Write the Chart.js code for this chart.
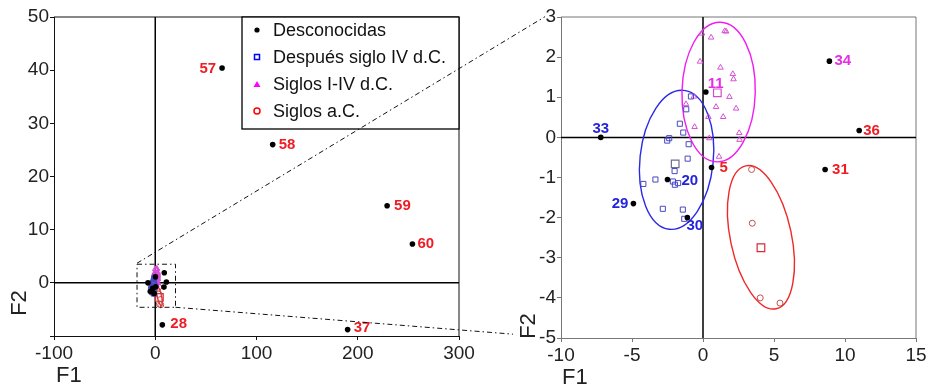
<!DOCTYPE html>
<html>
<head>
<meta charset="utf-8">
<script src="https://cdn.jsdelivr.net/npm/chart.js@4.4.1/dist/chart.umd.min.js"></script>
<style>
  html, body { margin: 0; padding: 0; background: #fff; }
  #wrap { position: relative; width: 930px; height: 387px; }
  #wrap canvas { position: absolute; left: 0; top: 0; }
</style>
</head>
<body>
<div id="wrap">
  <canvas id="zoomChart" width="930" height="387"></canvas>
  <canvas id="fullChart" width="930" height="387"></canvas>
</div>
<script>
// ---- values ----
const legendNames = ['Desconocidas', 'Después siglo IV d.C.', 'Siglos I-IV d.C.', 'Siglos a.C.'];

// unknown samples (black dots), with their ids
const unknownIds = ['57', '58', '59', '60', '28', '37', '33', '29', '20', '30', '5', '11', '34', '36', '31'];
const unknownF1 = [66, 116, 229, 254, 7, 190, -7.2, -4.9, -2.5, -1.1, 0.6, 0.2, 8.9, 11.0, 8.6];
const unknownF2 = [40.4, 26.0, 14.5, 7.3, -7.9, -8.8, 0.0, -1.65, -1.05, -2.0, -0.75, 1.13, 1.9, 0.17, -0.8];

// después siglo IV d.C. (blue squares)
const lateF1 = [-0.85, -1.18, -1.63, -1.39, -2.38, -2.52, -1.01, -1.08, -2.0, -3.35, -4.2, -2.12, -1.98, -1.75, -2.83, -1.42, -1.32];
const lateF2 = [1.02, 0.70, 0.34, 0.12, -0.02, -0.08, -0.17, -0.53, -0.84, -1.05, -1.16, -1.10, -1.18, -1.14, -1.78, -1.80, -2.03];

// siglos I-IV d.C. (magenta triangles)
const romanF1 = [-0.07, 0.57, 1.53, 1.63, -0.21, 1.23, 2.10, 2.15, 1.86, -0.64, -1.20, 0.92, 2.33, 0.38, 1.42, -0.59, 2.55, 2.57, 0.45, 1.13];
const romanF2 = [2.59, 2.49, 2.65, 2.64, 1.89, 1.74, 1.58, 1.45, 1.01, 1.02, 0.83, 0.76, 0.72, 0.51, 0.51, 0.26, 0.11, -0.06, -0.02, -0.48];

// siglos a.C. (red circles)
const bcF1 = [3.42, 3.47, 4.03, 5.42];
const bcF2 = [-0.80, -2.14, -4.0, -4.13];

// group centroids (big squares): late, roman, bc
const centroidF1 = [-1.96, 1.01, 4.08];
const centroidF2 = [-0.66, 1.11, -2.75];

// confidence ellipses: centre, half axes (F1, F2 units), tilt in degrees
const ellipseF1 = [-1.86, 1.10, 4.08];
const ellipseF2 = [-0.56, 1.13, -2.49];
const ellipseHalfF1 = [2.58, 2.58, 2.15];
const ellipseHalfF2 = [1.74, 1.74, 1.82];
const ellipseTilt = [6, 1.5, -12];

// axes
const fullXTicks = [-100, 0, 100, 200, 300];
const fullYTicks = [-10, 0, 10, 20, 30, 40, 50];
const zoomXTicks = [-10, -5, 0, 5, 10, 15];
const zoomYTicks = [-5, -4, -3, -2, -1, 0, 1, 2, 3];

// zoomed region marked on the full plot
const zoomBoxF1 = [-18, 20];
const zoomBoxF2 = [-4.6, 3.5];

// ---- styles ----
const FONT = "'Liberation Sans', Arial, sans-serif";
const RED = '#ee1c24', BLUE = '#2424dc', MAGENTA = '#e62ee6';
const ellipseColors = ['#2a2ae6', '#f01cf0', '#f02828'];
const labelPlace = {
    '57': { dx: -6, dy: 1, align: 'right', color: RED },
    '58': { dx: 6, dy: 0, align: 'left', color: RED },
    '59': { dx: 7, dy: 0, align: 'left', color: RED },
    '60': { dx: 5, dy: 0, align: 'left', color: RED },
    '28': { dx: 8, dy: -1, align: 'left', color: RED },
    '37': { dx: 6, dy: -2, align: 'left', color: RED },
    '33': { dx: 0, dy: -9, align: 'center', color: BLUE },
    '29': { dx: -5, dy: 0, align: 'right', color: BLUE },
    '20': { dx: 14, dy: 1, align: 'left', color: BLUE },
    '30': { dx: -1, dy: 8, align: 'left', color: BLUE },
    '5': { dx: 8, dy: 0, align: 'left', color: RED },
    '11': { dx: 2, dy: -8, align: 'left', color: MAGENTA },
    '34': { dx: 5, dy: 0, align: 'left', color: MAGENTA },
    '36': { dx: 4, dy: 0, align: 'left', color: RED },
    '31': { dx: 7, dy: 0, align: 'left', color: RED }
};

const pts = (xs, ys) => xs.map((x, i) => ({ x: x, y: ys[i] }));

function makeDatasets() {
    return [
        { label: legendNames[0], data: pts(unknownF1, unknownF2), pointStyle: 'circle', pointRadius: 2.8,
          backgroundColor: '#000', borderColor: '#000', borderWidth: 0 },
        { label: legendNames[1], data: pts(lateF1, lateF2), pointStyle: 'rect', pointRadius: 3.6,
          backgroundColor: 'rgba(0,0,0,0)', borderColor: '#4848c4', borderWidth: 1 },
        { label: legendNames[2], data: pts(romanF1, romanF2), pointStyle: 'triangle', pointRadius: 3.2,
          backgroundColor: 'rgba(0,0,0,0)', borderColor: '#d650d6', borderWidth: 1 },
        { label: legendNames[3], data: pts(bcF1, bcF2), pointStyle: 'circle', pointRadius: 3,
          backgroundColor: 'rgba(0,0,0,0)', borderColor: '#c25050', borderWidth: 1 },
        { label: 'centroides', data: pts(centroidF1, centroidF2), pointStyle: 'rect', pointRadius: 5.4,
          backgroundColor: 'rgba(0,0,0,0)', borderColor: ['#6c6c92', '#d24cd2', '#d42c34'], borderWidth: 1.2 }
    ];
}

function axis(ticksArr, color, isX, size, hideFirst) {
    return {
        type: 'linear',
        min: ticksArr[0],
        max: ticksArr[ticksArr.length - 1],
        ticks: {
            stepSize: ticksArr[1] - ticksArr[0],
            color: '#222',
            font: { size: 19, family: FONT },
            padding: isX ? 2 : 1,
            maxRotation: 0,
            autoSkip: false,
            callback: v => (hideFirst && v === ticksArr[0]) ? '' : String(v)
        },
        grid: { drawOnChartArea: false, drawTicks: true, tickLength: 4, color: color },
        border: { display: true, color: color, width: 1 },
        afterFit: scale => {
            if (isX) scale.height = size; else scale.width = size;
        }
    };
}

const extrasPlugin = {
    id: 'extras',
    beforeDatasetsDraw(chart, args, opts) {
        const { ctx, chartArea: a, scales: { x, y } } = chart;
        ctx.save();
        // top and right frame
        ctx.strokeStyle = opts.frameColor;
        ctx.lineWidth = 1;
        ctx.beginPath();
        ctx.moveTo(a.left, a.top);
        ctx.lineTo(a.right, a.top);
        ctx.lineTo(a.right, a.bottom);
        ctx.stroke();
        // axes through the origin
        const x0 = x.getPixelForValue(0), y0 = y.getPixelForValue(0);
        ctx.strokeStyle = '#000';
        ctx.lineWidth = 1.5;
        ctx.beginPath();
        ctx.moveTo(x0, a.top); ctx.lineTo(x0, a.bottom);
        ctx.moveTo(a.left, y0); ctx.lineTo(a.right, y0);
        ctx.stroke();
        // group ellipses
        ctx.beginPath();
        ctx.rect(a.left, a.top, a.width, a.height);
        ctx.clip();
        ellipseF1.forEach((cx, i) => {
            const px = x.getPixelForValue(cx), py = y.getPixelForValue(ellipseF2[i]);
            const rx = Math.abs(x.getPixelForValue(cx + ellipseHalfF1[i]) - px);
            const ry = Math.abs(y.getPixelForValue(ellipseF2[i] + ellipseHalfF2[i]) - py);
            ctx.strokeStyle = ellipseColors[i];
            ctx.lineWidth = 1.4;
            ctx.beginPath();
            ctx.ellipse(px, py, rx, ry, ellipseTilt[i] * Math.PI / 180, 0, Math.PI * 2);
            ctx.stroke();
        });
        ctx.restore();
    },
    afterDatasetsDraw(chart, args, opts) {
        const { ctx, chartArea: a, scales: { x, y } } = chart;
        ctx.save();

        // sample ids
        ctx.font = 'bold 15px ' + FONT;
        ctx.textBaseline = 'middle';
        opts.labels.forEach(id => {
            const i = unknownIds.indexOf(id);
            const p = labelPlace[id];
            ctx.fillStyle = p.color;
            ctx.textAlign = p.align;
            ctx.fillText(id, x.getPixelForValue(unknownF1[i]) + p.dx, y.getPixelForValue(unknownF2[i]) + p.dy);
        });

        // axis titles, put at the lower left corner like the original
        ctx.fillStyle = '#222';
        ctx.font = '22px ' + FONT;
        ctx.textAlign = 'left';
        ctx.fillText('F1', a.left + opts.f1[0], a.bottom + opts.f1[1]);
        ctx.save();
        ctx.translate(a.left + opts.f2[0], a.bottom + opts.f2[1]);
        ctx.rotate(-Math.PI / 2);
        ctx.textAlign = 'center';
        ctx.fillText('F2', 0, 0);
        ctx.restore();

        if (opts.legend) {
            const w = 217, h = 112, bx = a.right - w, by = a.top;
            ctx.fillStyle = '#fff';
            ctx.fillRect(bx, by, w, h);
            ctx.strokeStyle = '#000';
            ctx.lineWidth = 1.3;
            ctx.strokeRect(bx, by, w, h);
            ctx.font = '18px ' + FONT;
            ctx.textAlign = 'left';
            legendNames.forEach((name, k) => {
                const cy = by + 13 + 27 * k, mx = bx + 15;
                ctx.lineWidth = 1.5;
                ctx.beginPath();
                if (k === 0) {
                    ctx.fillStyle = '#000';
                    ctx.arc(mx, cy, 2.6, 0, Math.PI * 2);
                    ctx.fill();
                } else if (k === 1) {
                    ctx.strokeStyle = '#0000ff';
                    ctx.strokeRect(mx - 2.5, cy - 2.5, 5, 5);
                } else if (k === 2) {
                    ctx.fillStyle = '#ff00ff';
                    ctx.moveTo(mx, cy - 3); ctx.lineTo(mx + 3.5, cy + 3); ctx.lineTo(mx - 3.5, cy + 3);
                    ctx.closePath();
                    ctx.fill();
                } else {
                    ctx.strokeStyle = '#ff0000';
                    ctx.arc(mx, cy, 3, 0, Math.PI * 2);
                    ctx.stroke();
                }
                ctx.fillStyle = '#111';
                ctx.fillText(name, bx + 31, cy + 1);
            });
        }

        if (opts.target) {
            // dashed box round the zoomed region and the lines out to the second plot
            const l = x.getPixelForValue(zoomBoxF1[0]), r = x.getPixelForValue(zoomBoxF1[1]);
            const t = y.getPixelForValue(zoomBoxF2[1]), b = y.getPixelForValue(zoomBoxF2[0]);
            const ta = opts.target.chartArea;
            ctx.strokeStyle = '#111';
            ctx.lineWidth = 1;
            ctx.setLineDash([5, 3, 1.5, 3]);
            ctx.strokeRect(l, t, r - l, b - t);
            const line = (x1, y1, x2, y2, stopX) => {
                const k = (stopX - x1) / (x2 - x1);
                ctx.beginPath();
                ctx.moveTo(x1, y1);
                ctx.lineTo(stopX, y1 + (y2 - y1) * k);
                ctx.stroke();
            };
            line(l, t - 1, ta.left, ta.top - 10, ta.left - 16);
            line(r, b, ta.left, ta.bottom, ta.left - 48);
        }
        ctx.restore();
    }
};

// zoomed plot (right)
const zoomChart = new Chart(document.getElementById('zoomChart'), {
    type: 'scatter',
    data: { datasets: makeDatasets() },
    plugins: [extrasPlugin],
    options: {
        responsive: false,
        animation: false,
        events: [],
        layout: { padding: { left: 531, right: 14, top: 17, bottom: 0 } },
        scales: {
            x: axis(zoomXTicks, '#777', true, 49, false),
            y: axis(zoomYTicks, '#777', false, 30, false)
        },
        plugins: {
            legend: { display: false },
            tooltip: { enabled: false },
            extras: {
                frameColor: '#777',
                labels: ['33', '29', '20', '30', '5', '11', '34', '36', '31'],
                f1: [1, 40],
                f2: [-32, -12],
                legend: false,
                target: null
            }
        }
    }
});

// full plot (left), drawn on a transparent canvas above the other one
const fullChart = new Chart(document.getElementById('fullChart'), {
    type: 'scatter',
    data: { datasets: makeDatasets() },
    plugins: [extrasPlugin],
    options: {
        responsive: false,
        animation: false,
        events: [],
        layout: { padding: { left: 0, right: 471, top: 17, bottom: 0 } },
        scales: {
            x: axis(fullXTicks, '#111', true, 51, false),
            y: axis(fullYTicks, '#111', false, 54, true)
        },
        plugins: {
            legend: { display: false },
            tooltip: { enabled: false },
            extras: {
                frameColor: '#111',
                labels: ['57', '58', '59', '60', '28', '37'],
                f1: [2, 40],
                f2: [-34, -33],
                legend: true,
                target: zoomChart
            }
        }
    }
});
</script>
</body>
</html>
